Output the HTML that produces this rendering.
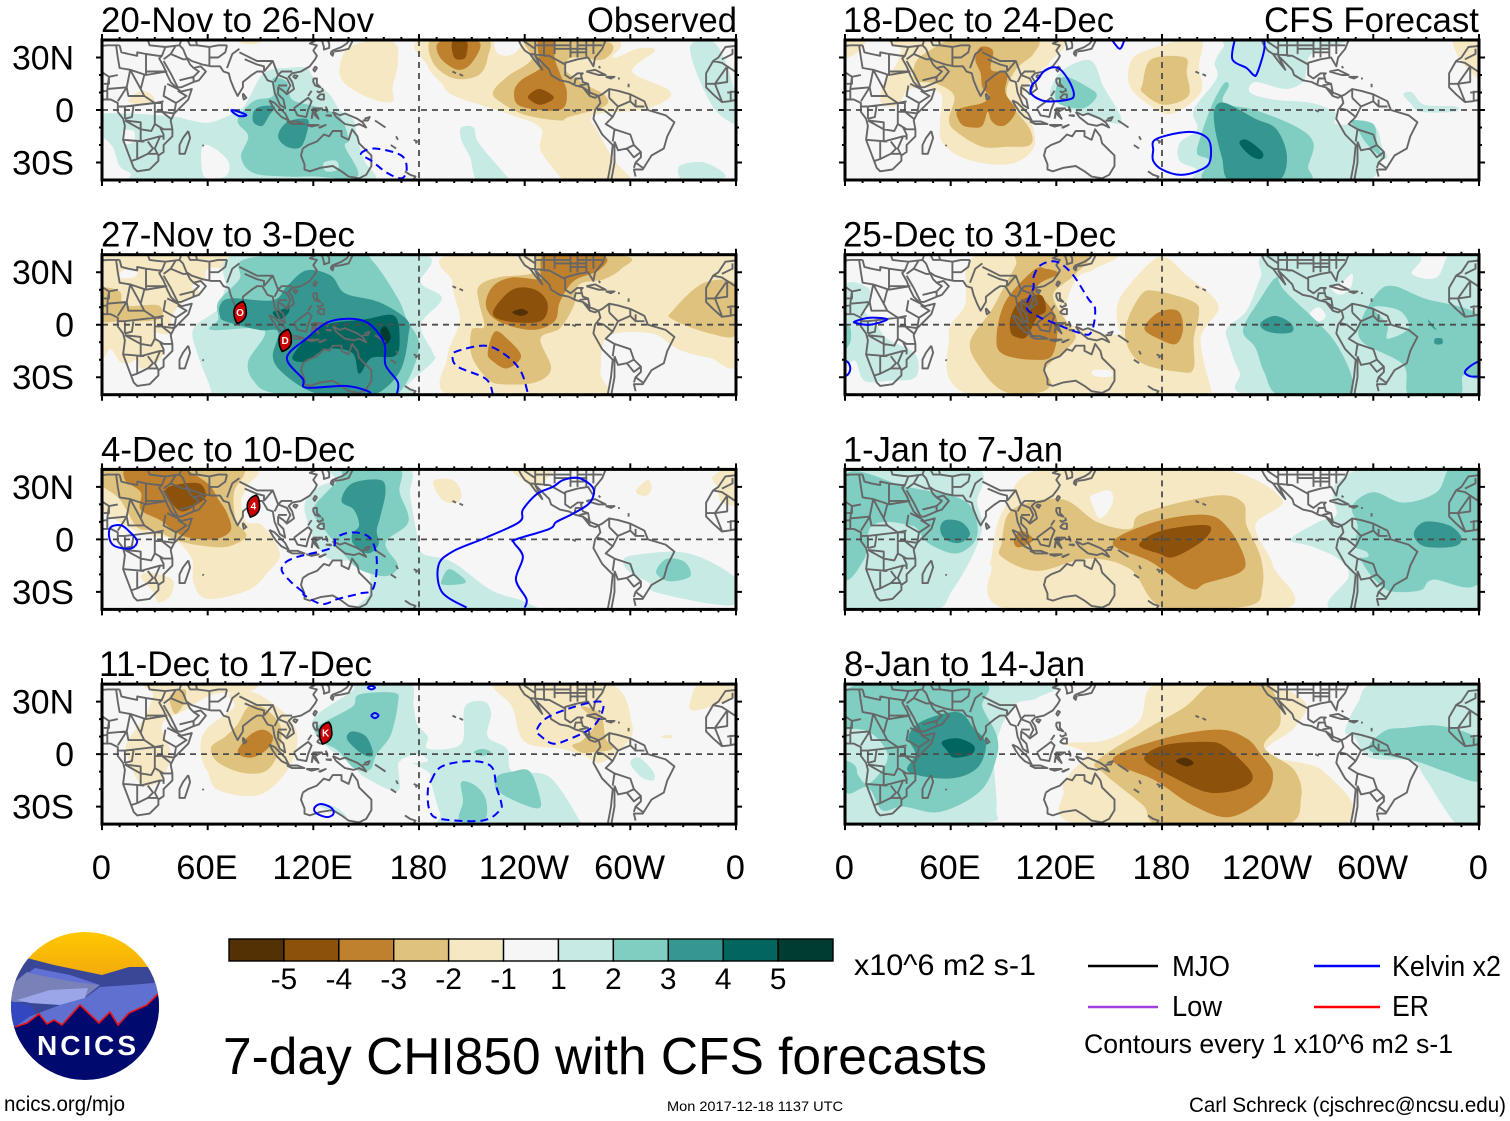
<!DOCTYPE html>
<html lang="en">
<head>
<meta charset="utf-8">
<title>7-day CHI850 with CFS forecasts</title>
<style>
html,body{margin:0;padding:0;background:#fff}
svg{display:block}
text{font-family:"Liberation Sans",sans-serif;fill:#000}
</style>
</head>
<body>
<svg id="figure" xmlns="http://www.w3.org/2000/svg" width="1510" height="1121" viewBox="0 0 1510 1121">
  <rect x="0" y="0" width="1510" height="1121" fill="#ffffff"/>
  <g id="panels"></g>

  <g font-size="35">
    <text x="101" y="32" textLength="273" lengthAdjust="spacingAndGlyphs">20-Nov to 26-Nov</text>
    <text x="587" y="32" textLength="150" lengthAdjust="spacingAndGlyphs">Observed</text>
    <text x="101" y="246.7" textLength="254" lengthAdjust="spacingAndGlyphs">27-Nov to 3-Dec</text>
    <text x="101" y="461.4" textLength="254" lengthAdjust="spacingAndGlyphs">4-Dec to 10-Dec</text>
    <text x="99" y="676.1" textLength="273" lengthAdjust="spacingAndGlyphs">11-Dec to 17-Dec</text>
    <text x="843" y="32" textLength="271" lengthAdjust="spacingAndGlyphs">18-Dec to 24-Dec</text>
    <text x="1264" y="32" textLength="215" lengthAdjust="spacingAndGlyphs">CFS Forecast</text>
    <text x="843" y="246.7" textLength="273" lengthAdjust="spacingAndGlyphs">25-Dec to 31-Dec</text>
    <text x="843" y="461.4" textLength="220" lengthAdjust="spacingAndGlyphs">1-Jan to 7-Jan</text>
    <text x="844" y="676.1" textLength="241" lengthAdjust="spacingAndGlyphs">8-Jan to 14-Jan</text>
  </g>

  <g id="colorbar"></g>
  <text x="854" y="975" font-size="30" textLength="182" lengthAdjust="spacingAndGlyphs">x10^6 m2 s-1</text>

  <g>
    <line x1="1088" y1="966" x2="1158" y2="966" stroke="#000000" stroke-width="2.4"/>
    <text x="1172" y="976" font-size="29" textLength="58" lengthAdjust="spacingAndGlyphs">MJO</text>
    <line x1="1314" y1="966" x2="1380" y2="966" stroke="#0000ff" stroke-width="2.4"/>
    <text x="1392" y="976" font-size="29" textLength="109" lengthAdjust="spacingAndGlyphs">Kelvin x2</text>
    <line x1="1088" y1="1007" x2="1158" y2="1007" stroke="#a040e0" stroke-width="2.4"/>
    <text x="1172" y="1016" font-size="29" textLength="50" lengthAdjust="spacingAndGlyphs">Low</text>
    <line x1="1314" y1="1007" x2="1380" y2="1007" stroke="#ff0000" stroke-width="2.4"/>
    <text x="1392" y="1016" font-size="29" textLength="37" lengthAdjust="spacingAndGlyphs">ER</text>
    <text x="1084" y="1053" font-size="27" textLength="369" lengthAdjust="spacingAndGlyphs">Contours every 1 x10^6 m2 s-1</text>
  </g>

  <text x="223" y="1074" font-size="52" textLength="764" lengthAdjust="spacingAndGlyphs">7-day CHI850 with CFS forecasts</text>
  <text x="4" y="1111" font-size="21" textLength="121" lengthAdjust="spacingAndGlyphs">ncics.org/mjo</text>
  <text x="667" y="1111" font-size="14" textLength="176" lengthAdjust="spacingAndGlyphs">Mon 2017-12-18 1137 UTC</text>
  <text x="1189" y="1112" font-size="21" textLength="317" lengthAdjust="spacingAndGlyphs">Carl Schreck (cjschrec@ncsu.edu)</text>

  <g>
    <defs>
      <clipPath id="logo-clip"><circle cx="85" cy="1006" r="74"/></clipPath>
      <linearGradient id="logo-sky" x1="0" y1="0" x2="0" y2="1">
        <stop offset="0" stop-color="#ffc800"/><stop offset="1" stop-color="#f2a60e"/>
      </linearGradient>
    </defs>
    <g clip-path="url(#logo-clip)">
      <rect x="10" y="932" width="150" height="50" fill="url(#logo-sky)"/>
      <polygon fill="#3a4796" points="5,950 27,958 54,965 102,975 129,967 165,967 165,1040 5,1040"/>
      <polygon fill="#7a80b8" points="5,990 27,972 75,980 100,985 85,997 40,1002 5,1002"/>
      <polygon fill="#6070d4" points="35,968 70,975 100,985 75,982 28,973"/>
      <polygon fill="#5f70d0" points="85,998 100,987 130,985 165,982 165,1040 10,1040 20,1020 60,1005"/>
      <polygon fill="#9aa6e8" points="17,1000 50,990 88,988 85,998 60,1005 30,1003"/>
      <polygon fill="#3348c0" points="5,1000 30,1005 36,1012 15,1027 5,1027"/>
      <polygon fill="#000a6e" points="5,1028 15,1027 27,1023 39,1014 47,1024 54,1020 62,1025 80,1005 99,1023 110,1012 118,1025 129,1013 147,1005 159,993 165,990 165,1085 5,1085"/>
      <polyline fill="none" stroke="#ee1111" stroke-width="1.6" points="15,1027 27,1023 39,1014 47,1024 54,1020 62,1025 80,1005 99,1023 110,1012 118,1025 129,1013 147,1005 159,993"/>
      <text x="37" y="1055" font-size="28" font-weight="bold" style="fill:#ffffff" textLength="99" lengthAdjust="spacing">NCICS</text>
    </g>
  </g>
</svg>

<script>
// Shading colours from the strongest negative (-5) to strongest positive (+5) class.
const fieldColors = ['#543005','#8c510a','#bf812d','#dfc27d','#f6e8c3','#f6f6f6','#c7eae5','#80cdc1','#35978f','#01665e','#003c30'];
const colorbarLabels = ['-5','-4','-3','-2','-1','1','2','3','4','5'];
const lonTickLabels = ['0','60E','120E','180','120W','60W','0'];
const lonTickValues = [0,60,120,180,240,300,360];
const latTickLabels = ['30N','0','30S'];
const latTickValues = [30,0,-30];

// Each field entry: [shading class, outline in lon/lat degrees]. Class 0 punches a neutral hole.
const panel1Fields = [
 [-1,[[15,5],[22,11],[28,9],[30,4],[24,3]]],
 [-1,[[75,41],[80,38],[88,38],[92,41]]],
 [-1,[[142,37],[165,39],[168,27],[165,13],[165,5],[154,6],[138,15],[135,25]]],
 [-1,[[185,41],[185,25],[193,15],[200,8],[230,-2],[249,-10],[249,-23],[260,-38],[263,-41],[299,-41],[291,-29],[282,-13],[279,-3],[306,0],[321,6],[321,12],[301,22],[314,34],[304,35],[290,30],[287,41]]],
 [0,[[224,41],[224,33],[230,31],[236,34],[238,41]]],
 [-2,[[188,41],[188,27],[200,18],[214,20],[219,30],[218,41]]],
 [-2,[[222,10],[230,19],[244,29],[242,41],[287,39],[285,29],[267,30],[263,23],[274,15],[286,8],[285,2],[265,-4],[260,-6],[241,-3],[227,4]]],
 [-3,[[192,39],[192,30],[202,23],[210,27],[214,39]]],
 [-3,[[234,10],[238,17],[249,24],[248,30],[248,41],[257,41],[257,30],[260,21],[264,10],[260,0],[238,2]]],
 [-4,[[199,39],[200,30],[205,29],[207,32],[207,39]]],
 [-4,[[242,8],[248,12],[255,9],[256,6],[249,3],[244,5]]],
 [1,[[-1,-3],[13,-2],[32,-3],[43,-4],[51,-6],[62,-7],[78,0],[83,6],[90,19],[96,23],[105,24],[116,24],[121,17],[130,8],[135,0],[143,-6],[145,-17],[149,-29],[153,-41],[105,-42],[24,-42],[16,-36],[10,-32],[6,-21],[-1,-13]]],
 [0,[[57,-21],[64,-22],[72,-30],[70,-38],[58,-38]]],
 [0,[[12,-12],[18,-12],[18,-18],[13,-19]]],
 [1,[[204,-10],[211,-10],[214,-19],[230,-38],[233,-41],[214,-41],[209,-27],[204,-17]]],
 [1,[[328,-32],[342,-30],[354,-38],[336,-41],[329,-40]]],
 [1,[[335,38],[347,39],[355,25],[361,2],[361,-8],[350,-2],[342,11],[335,29]]],
 [2,[[77,-6],[86,5],[97,8],[97,18],[105,16],[108,6],[121,2],[135,-4],[140,-17],[138,-21],[145,-38],[120,-38],[105,-38],[86,-36],[79,-27],[83,-15]]],
 [1,[[126,-30],[133,-29],[134,-34],[127,-35]]],
 [3,[[86,-1],[90,2],[98,2],[95,-3],[91,-9],[86,-7]]],
 [3,[[100,-15],[105,-7],[116,-5],[117,-10],[113,-21],[105,-21]]]
];
const panel1Kelvin = [
 ['solid',true,[[74,0],[79,-1.5],[82,-3],[78,-3.5],[74,-1]]],
 ['dashed',true,[[147,-25],[155,-22],[170,-26],[173,-34],[170,-39],[162,-36],[153,-29]]]
];
const panel1Storms = [];

const panel2Fields = [
 [-1,[[0,41],[75,41],[70,33],[60,32],[58,25],[51,22],[55,18],[45,12],[40,5],[38,-5],[30,-5],[35,-15],[30,-23],[22,-25],[20,-20],[15,-22],[10,-21],[5,-14],[-1,-16]]],
 [0,[[10,27],[18,27],[20,31],[12,31]]],
 [-2,[[-1,20],[10,19],[13,11],[32,11],[32,3],[10,2],[-1,3]]],
 [-1,[[205,41],[199,24],[203,6],[202,-2],[196,-19],[199,-41],[281,-41],[283,-27],[287,-7],[312,-5],[327,-14],[345,-19],[361,-21],[361,41]]],
 [-2,[[324,8],[342,24],[361,22],[361,-5],[345,-5],[324,3]]],
 [-2,[[214,22],[225,27],[246,30],[249,41],[298,39],[295,32],[285,26],[271,23],[268,11],[260,-2],[249,-8],[255,-25],[246,-33],[227,-34],[219,-31],[210,-18],[210,-3],[217,-1],[214,13]]],
 [-3,[[218,11],[222,22],[233,27],[249,26],[249,31],[253,41],[285,39],[282,31],[268,25],[260,13],[257,2],[244,-3],[225,2]]],
 [-3,[[219,-16],[223,-4],[230,-8],[238,-18],[230,-25],[222,-21]]],
 [-4,[[222,7],[233,20],[246,20],[253,12],[249,2],[230,2]]],
 [-5,[[233,7],[238,9],[242,7],[238,5]]],
 [1,[[79,41],[70,21],[66,9],[52,-2],[54,-16],[62,-38],[59,-42],[173,-42],[173,-35],[188,-21],[188,-16],[181,0],[193,15],[181,24],[180,41]]],
 [2,[[83,38],[78,26],[66,13],[66,3],[62,-3],[92,-3],[83,-21],[86,-32],[97,-39],[132,-42],[165,-42],[180,-14],[173,3],[168,15],[154,36],[143,41]]],
 [3,[[67,11],[73,15],[97,14],[105,22],[116,31],[130,28],[138,18],[157,13],[173,3],[174,-6],[170,-25],[160,-37],[151,-40],[132,-42],[116,-37],[102,-27],[97,-18],[100,-4],[89,-3],[70,2],[67,5]]],
 [4,[[108,-19],[116,-8],[127,0],[149,3],[166,5],[169,-10],[166,-18],[153,-19],[146,-28],[142,-16],[127,-14],[116,-21]]],
 [4,[[97,7],[103,9],[106,11],[106,7],[101,3]]],
 [5,[[158,-4],[161,-1],[164,-7],[161,-11]]]
];
const panel2Kelvin = [
 ['solid',false,[[167,-41],[168,-33],[161,-23],[160,-10],[149,2],[130,2],[116,-8],[105,-19],[114,-31],[116,-36],[138,-35],[151,-38],[153,-41]]],
 ['dashed',false,[[222,-40],[218,-31],[202,-24],[199,-18],[202,-15],[218,-12],[230,-18],[238,-27],[242,-40]]]
];
const panel2Storms = [[78.4,7,'O'],[104,-9,'D']];

const panel3Fields = [
 [-1,[[-1,41],[83,41],[82,30],[79,21],[82,10],[91,8],[101,-8],[94,-19],[83,-29],[60,-34],[52,-25],[51,-11],[41,0],[29,2],[17,6],[-1,19]]],
 [-1,[[22,-21],[28,-19],[40,-23],[39,-32],[32,-36],[29,-30]]],
 [-1,[[347,36],[359,41],[361,21],[352,21],[349,30]]],
 [-1,[[304,29],[310,34],[312,29],[309,25],[304,26]]],
 [-1,[[189,34],[199,34],[204,27],[202,21],[194,22],[189,29]]],
 [-1,[[233,41],[256,41],[247,30],[240,33]]],
 [-2,[[-1,32],[10,23],[20,7],[30,5],[44,-1],[60,-4],[72,-4],[82,2],[76,11],[75,27],[81,38],[75,41],[3,41]]],
 [-3,[[15,42],[13,34],[22,27],[22,17],[33,11],[46,2],[63,0],[73,5],[71,15],[66,23],[60,32],[45,41],[36,42]]],
 [-4,[[36,28],[41,31],[55,32],[59,25],[54,20],[45,16],[38,23]]],
 [1,[[132,41],[173,41],[175,25],[179,2],[182,-8],[199,-13],[221,-29],[241,-36],[241,-42],[151,-42],[152,-30],[150,-13],[127,-10],[115,17],[122,29],[132,34]]],
 [1,[[296,-13],[302,-9],[333,-8],[361,-23],[361,-36],[347,-37],[314,-30],[311,-25],[300,-19]]],
 [2,[[122,21],[136,36],[136,41],[168,41],[169,27],[174,10],[161,-2],[168,-15],[161,-21],[146,-17],[137,-8],[126,6],[120,15]]],
 [2,[[193,-23],[197,-17],[204,-21],[206,-25],[194,-26]]],
 [2,[[315,-17],[321,-11],[331,-13],[334,-21],[323,-24],[316,-21]]],
 [3,[[136,22],[142,32],[158,34],[161,27],[158,13],[156,5],[157,-3],[151,-8],[143,-3],[142,3],[146,8],[143,17]]]
];
const panel3Kelvin = [
 ['solid',true,[[4,2],[5,7],[11,8],[16,4],[20,-1],[17,-5],[11,-5],[6,-3]]],
 ['solid',false,[[207,-39],[193,-30],[191,-15],[199,-7],[218,1],[237,10],[239,17],[247,26],[256,30],[262,34],[271,35],[279,29],[277,21],[268,15],[258,10],[254,6],[235,0],[234,-2],[239,-10],[235,-23],[241,-34],[240,-39]]],
 ['dashed',true,[[114,-30],[107,-24],[102,-17],[108,-11],[130,-5],[133,1],[142,4],[152,1],[156,-11],[154,-28],[146,-31],[134,-34],[125,-37],[115,-32]]]
];
const panel3Storms = [[86,19,'4']];

const panel4Fields = [
 [-1,[[26,41],[29,34],[24,21],[15,8],[14,0],[22,-17],[33,-15],[39,0],[34,17],[47,25],[63,34],[84,36],[83,41]]],
 [-1,[[56,6],[60,15],[75,27],[72,34],[87,35],[106,21],[111,8],[106,-8],[94,-21],[82,-24],[65,-20],[60,-10],[57,-4]]],
 [-2,[[62,4],[70,10],[77,17],[83,27],[91,27],[101,17],[101,4],[96,-7],[89,-11],[77,-10],[65,-4]]],
 [-2,[[39,34],[47,37],[47,30],[42,23],[39,28]]],
 [-3,[[77,1],[83,10],[91,14],[97,10],[94,3],[85,-2]]],
 [-1,[[225,41],[287,41],[301,17],[297,5],[283,-5],[274,-1],[261,3],[240,7],[233,27]]],
 [-2,[[267,5],[273,8],[280,18],[272,27],[283,23],[286,9],[290,3],[278,1],[272,1]]],
 [-1,[[334,30],[340,41],[361,41],[361,34],[345,27],[335,25]]],
 [-1,[[317,10],[323,11],[323,9]]],
 [1,[[120,20],[142,36],[144,41],[174,41],[177,27],[179,17],[185,10],[185,3],[204,6],[206,27],[217,30],[221,23],[219,10],[230,3],[233,-10],[254,-13],[272,-39],[274,-42],[197,-42],[192,-34],[187,-17],[185,-10],[169,-4],[168,-21],[149,-13],[142,-6],[126,6]]],
 [0,[[170,-3],[180,0],[185,-4],[175,-5]]],
 [1,[[300,-5],[305,-2],[313,-10],[313,-15],[306,-13]]],
 [1,[[122,-29],[132,-30],[139,-36],[131,-33]]],
 [2,[[124,17],[142,27],[146,34],[166,35],[168,29],[164,11],[156,0],[152,-9],[143,-8],[134,2],[125,7],[121,13]]],
 [3,[[139,9],[142,13],[150,10],[154,0],[150,-1],[144,3]]],
 [2,[[211,1],[216,3],[221,1],[216,-1]]],
 [2,[[224,-13],[233,-10],[243,-10],[249,-26],[247,-31],[233,-26],[224,-20]]],
 [2,[[204,-16],[212,-18],[218,-26],[217,-38],[203,-38],[205,-27]]]
];
const panel4Kelvin = [
 ['solid',true,[[153,39],[155,38],[153,37],[151,38]]],
 ['solid',true,[[155,23.5],[157,22],[155,20.5],[153,22]]],
 ['solid',true,[[120.5,-31],[124,-28.5],[130,-30.5],[131.5,-34],[128,-36],[122,-34]]],
 ['dashed',true,[[187,-15],[193,-7],[209,-4],[221,-7],[224,-19],[226.5,-27],[226,-32],[216,-38],[192,-37],[186,-32],[185,-21]]],
 ['dashed',true,[[247,14],[253,21],[268,27],[283,30],[284,24],[278,15],[264,8],[256,6],[249.5,10]]]
];
const panel4Storms = [[127,12,'K']];

const panel5Fields = [
 [-1,[[30,41],[119,41],[116,27],[107,19],[101,6],[107,-11],[107,-22],[97,-30],[83,-31],[66,-27],[55,-18],[54,-6],[54,10],[37,12],[30,3],[21,3],[21,13],[28,24],[32,34]]],
 [-1,[[-1,41],[12,41],[7,33],[-1,30]]],
 [-1,[[346,41],[361,41],[361,19],[352,25],[347,33]]],
 [-2,[[40,27],[48,34],[65,41],[107,41],[107,32],[97,23],[92,8],[105,-11],[105,-20],[92,-21],[78,-21],[64,-13],[59,-6],[62,8],[52,15],[40,17]]],
 [-3,[[77,36],[84,34],[83,23],[92,21],[91,10],[97,0],[92,-8],[87,-9],[83,-6],[81,-1],[78,-9],[72,-10],[66,-8],[64,0],[78,4],[82,8],[78,13],[77,21],[74,29]]],
 [-1,[[162,27],[171,34],[201,41],[201,25],[202,10],[186,-2],[174,2],[162,13]]],
 [-2,[[169,15],[174,29],[193,30],[194,21],[195,8],[181,3],[169,10]]],
 [1,[[127,25],[140,28],[147,13],[157,-5],[150,-7],[119,5],[119,17]]],
 [2,[[120,13],[125,19],[138,13],[143,8],[135,1],[121,4]]],
 [1,[[190,-19],[200,-11],[198,0],[211,18],[210,27],[215,36],[221,41],[284,41],[265,32],[262,23],[260,16],[250,12],[233,16],[230,10],[243,6],[265,4],[279,-2],[279,-8],[300,-9],[305,-21],[308,-27],[303,-30],[291,-41],[205,-41],[200,-34],[190,-29]]],
 [1,[[317,9],[322,10],[329,3],[347,2],[346,-1],[327,-1],[321,4]]],
 [2,[[200,-25],[202,-15],[208,2],[215,15],[218,14],[215,4],[233,0],[257,-10],[266,-19],[263,-32],[261,-41],[206,-41],[207,-29]]],
 [2,[[287,-6],[300,-8],[302,-19],[305,-27],[296,-19],[291,-11]]],
 [3,[[210,1],[216,4],[233,-5],[245,-11],[251,-27],[245,-41],[219,-41],[214,-27],[210,-10]]],
 [4,[[224,-19],[228,-17],[237,-24],[236,-28],[230,-26]]]
];
const panel5Kelvin = [
 ['solid',true,[[109,17],[114,23],[121,24],[127,17],[130,9],[127,6],[114,5],[106,9],[106,14]]],
 ['solid',true,[[175,-23],[176,-17],[190,-13],[200,-13],[207,-18],[207,-30],[200,-35],[190,-37],[180,-34],[175,-29]]],
 ['solid',false,[[221.5,41],[220,29],[228,24],[232,20],[234,21],[238,34],[238,41]]],
 ['solid',false,[[151,41],[156,35],[159,41]]]
];
const panel5Storms = [];

const panel6Fields = [
 [1,[[-1,21],[13,21],[14,11],[11,8],[18,0],[24,-8],[40,-17],[40,-30],[25,-32],[11,-32],[6,-21],[-1,-19]]],
 [2,[[-1,0],[3,-2],[3,-10],[-1,-14]]],
 [1,[[217,-2],[228,8],[236,27],[243,41],[322,41],[322,29],[336,27],[344,41],[361,41],[361,-41],[234,-41],[224,-27],[218,-11]]],
 [0,[[276,21],[281,23],[288,29],[287,21],[281,17]]],
 [0,[[264,6],[269,10],[273,5],[269,2]]],
 [2,[[226,-3],[236,15],[245,27],[250,19],[279,-11],[287,-41],[248,-41],[238,-27],[233,-13]]],
 [2,[[293,2],[303,19],[312,22],[329,15],[361,4],[361,-29],[351,-29],[348,-41],[321,-41],[317,-23],[294,-10]]],
 [1,[[300,10],[315,8],[320,-2],[308,-8],[308,0]]],
 [3,[[236,1],[244,5],[253,1],[254,-4],[246,-5],[238,-3]]],
 [3,[[331,3],[336,-3],[333,-1]]],
 [3,[[335,-8],[339,-8],[339,-11],[335,-11]]],
 [-1,[[59,-6],[68,11],[77,41],[152,41],[142,32],[132,27],[126,13],[127,1],[147,-5],[157,-5],[155,-1],[156,15],[174,36],[183,38],[193,29],[212,11],[202,-8],[208,-38],[207,-41],[74,-41]]],
 [0,[[141,-26],[150,-26],[152,-29],[147,-30],[141,-29]]],
 [-2,[[71,-10],[83,8],[90,21],[97,34],[100,41],[138,41],[131,29],[119,19],[120,11],[127,0],[131,-7],[125,-15],[114,-25],[117,-34],[109,-39],[90,-38],[77,-25]]],
 [-3,[[86,-8],[91,13],[107,31],[114,32],[121,29],[109,21],[120,4],[118,-17],[107,-20],[90,-17]]],
 [-4,[[94,-4],[94,4],[99,13],[111,17],[114,8],[109,4],[103,-7],[97,-7]]],
 [-2,[[159,-4],[168,17],[178,19],[198,13],[201,6],[198,-8],[198,-25],[190,-27],[167,-21]]],
 [-3,[[170,-2],[178,7],[189,8],[192,-2],[188,-11],[178,-8]]]
];
const panel6Kelvin = [
 ['solid',true,[[352,-27],[356,-23],[361,-21],[363,-25],[361,-29],[355,-29.5]]],
 ['solid',true,[[6,2],[14,4],[24,3],[14,0],[6,1]]],
 ['dashed',true,[[107,27],[111,34],[120,36],[129,29],[138,15],[142,9],[140,-4],[134,-5],[116,2],[109,5],[103,10],[107,21]]]
];
const panel6Storms = [];

const panel7Fields = [
 [1,[[-1,41],[73,41],[75,21],[78,8],[73,-8],[61,-29],[49,-41],[-1,-41]]],
 [2,[[-1,36],[35,30],[66,23],[74,13],[75,2],[70,-5],[61,-8],[47,-2],[41,6],[37,8],[23,10],[14,6],[11,-11],[-1,-21]]],
 [3,[[54,6],[57,11],[66,10],[71,3],[65,-2],[57,0]]],
 [1,[[253,0],[269,10],[279,14],[277,25],[281,34],[300,41],[361,41],[361,-41],[278,-41],[286,-21],[280,-11],[265,-4]]],
 [2,[[288,19],[300,27],[317,21],[336,27],[344,41],[361,41],[361,-23],[334,-23],[327,-29],[312,-30],[305,-27],[296,-17],[290,-4],[291,8]]],
 [1,[[289,-5],[296,-7],[297,-10],[292,-10]]],
 [3,[[323,3],[329,10],[343,8],[350,1],[346,-4],[329,-4]]],
 [-1,[[83,-11],[90,17],[114,41],[209,41],[248,23],[233,8],[243,-15],[245,-41],[97,-41],[83,-15]]],
 [0,[[140,25],[150,28],[152,21],[145,12],[140,21]]],
 [-2,[[89,-2],[95,17],[123,23],[143,10],[162,6],[169,15],[210,25],[226,21],[228,8],[236,-10],[237,-27],[229,-38],[181,-39],[162,-17],[138,-11],[109,-18],[89,-10]]],
 [-3,[[96,0],[100,5],[107,0],[101,-4],[97,-4]]],
 [-3,[[152,-2],[176,10],[205,14],[218,6],[227,-11],[224,-19],[205,-25],[196,-28],[174,-13]]],
 [-4,[[167,-3],[180,5],[206,8],[204,0],[187,-10],[178,-8]]]
];
const panel7Kelvin = [];
const panel7Storms = [];

const panel8Fields = [
 [1,[[-1,41],[114,41],[109,32],[95,27],[85,2],[86,-31],[80,-39],[18,-41],[-1,-41]]],
 [2,[[-1,36],[76,41],[78,27],[86,11],[86,-2],[77,-21],[54,-33],[33,-30],[21,-32],[13,-19],[-1,-19]]],
 [1,[[-1,13],[13,13],[23,3],[23,-6],[13,-17],[6,-10],[-1,0]]],
 [2,[[-1,-4],[6,-7],[6,-14],[-1,-15]]],
 [3,[[36,10],[44,19],[64,24],[73,15],[80,6],[75,-8],[59,-14],[36,-10],[40,0]]],
 [4,[[55,7],[64,9],[73,5],[72,0],[62,-2],[58,2]]],
 [1,[[284,13],[291,29],[303,41],[361,41],[361,-41],[348,-41],[329,-13],[322,-4],[298,-2],[289,10]]],
 [2,[[306,13],[318,15],[339,16],[361,7],[361,-15],[341,-10],[324,-4],[298,2]]],
 [-1,[[126,6],[148,8],[167,19],[178,41],[234,41],[261,30],[255,15],[238,0],[272,-10],[280,-41],[137,-41],[124,-21],[128,-11],[137,0]]],
 [-2,[[143,-4],[169,13],[193,27],[210,41],[236,41],[245,32],[247,17],[238,4],[255,-9],[259,-25],[248,-41],[181,-41],[169,-29],[147,-11]]],
 [-3,[[152,-3],[181,9],[212,14],[228,9],[236,0],[243,-11],[238,-25],[218,-36],[197,-29],[176,-15]]],
 [-4,[[170,-3],[181,5],[205,7],[216,4],[231,-11],[226,-19],[207,-22],[186,-13]]],
 [-5,[[188,-4],[193,-2],[198,-5],[194,-7]]]
];
const panel8Kelvin = [];
const panel8Storms = [];

// Coastlines and political borders, lon/lat degrees.
const coastlines = [
 [[10,37],[11,33],[15,32],[20,31],[20,33],[25,32],[32,31],[34,31],[32.5,29.5],[35,25],[37,20],[39,16],[43,12],[45,10.5],[51,12],[49,6],[45,2],[41,-2],[39,-6],[40,-11],[40,-15],[35,-20],[35,-24],[32,-26],[32,-29],[27,-34],[20,-35],[18,-33],[15,-25],[12,-17],[13,-9],[12,-5],[9,-1],[9,4],[5,6],[1,6],[-4,5],[-8,4.5],[-13,9],[-17,13],[-17,21],[-13,28],[-10,30],[-6,36],[3,37],[10,37]],
 [[49,-12],[50,-16],[47,-25],[44,-25],[44,-20],[46,-16],[49,-12]],
 [[34,31],[36,36],[31,36.5],[27,37],[26,40],[29,41],[35,42],[41,41]],
 [[35,28],[39,21],[43,13],[45,13],[52,16],[55,17],[59,22],[56,25],[52,24],[50,26],[48,30],[51,28],[57,26],[62,25],[67,25],[69,22],[72,21],[73,17],[75,12],[77,8],[80,13],[80,16],[85,20],[88,22],[91,22],[94,17],[97,16],[98,10],[101,3],[104,1],[103,6],[100,9],[100,13],[103,11],[105,9],[109,12],[108,16],[106,19],[108,21],[113,22],[118,25],[121,29],[122,31],[120,34],[122,37],[118,38],[122,40],[125,39.5],[126,36],[126,34.5],[129,35.5],[129,38],[128,40],[130,42]],
 [[47,42],[49,39],[50,37],[54,37],[53,41],[50,44]],
 [[80,9.5],[82,7],[80.5,6],[80,8],[80,9.5]],
 [[95,5.5],[98,4],[100,2],[104,-2],[106,-6],[102,-4],[99,-1],[97,2],[95,5.5]],
 [[105,-6.5],[111,-6.5],[115,-8],[108,-8],[105,-6.5]],
 [[116,-8.5],[120,-8.5],[123,-8.5],[119,-9.5],[116,-8.5]],
 [[123,-10],[127,-8.5],[124,-10],[123,-10]],
 [[109,1],[113,4],[117,7],[119,5],[117,0],[116,-4],[111,-3],[109,1]],
 [[119,-5],[120,1],[125,1],[121,-1],[123,-5],[121,-3],[120,-1],[119,-5]],
 [[127,2],[128,0],[128,-1],[127,2]],
 [[127,-3],[130,-3],[130,-3.5],[127,-3]],
 [[131,-1],[135,-3],[138,-2],[145,-5],[148,-7],[150,-10],[146,-8],[143,-9],[138,-8],[133,-4],[131,-1]],
 [[149,-5],[152,-4],[151,-6],[148,-6]],
 [[155,-6],[158,-8],[161,-10]],
 [[109,20],[111,19.5],[110,18],[108.7,19],[109,20]],
 [[121,25],[122,24],[120.8,22],[120,23],[121,25]],
 [[120,18],[122,18],[122,15],[124,13],[121,14],[120,16],[120,18]],
 [[122,7],[124,9],[126,9],[126,6],[124,6],[122,7]],
 [[117,8],[119,11]],
 [[125,12.5],[125.5,11],[123,10],[122,11]],
 [[130,33],[131,34],[136,36],[139,38],[141,41],[142,39],[140,35],[136,34],[132,33.5]],
 [[130,33],[131.5,33],[131,31],[130,32],[130,33]],
 [[114,-22],[117,-20],[122,-18],[126,-14],[129,-15],[131,-12],[136,-12],[136,-15],[140,-17],[142,-11],[145,-15],[146,-19],[150,-23],[153,-26],[153,-32],[150,-37],[146,-39],[140,-38],[136,-35],[131,-32],[124,-33],[118,-35],[115,-34],[115,-31],[113,-26],[114,-22]],
 [[164,-20],[167,-22]],[[167,-15],[168,-17]],[[177,-17],[179,-18],[178,-19]],
 [[172,-35],[175,-37],[178,-38],[176,-41]],
 [[199,22],[201,21]],[[203,20.5],[205,19.5]],
 [[57,-20],[57.8,-20.5]],[[267,0],[269,-1]],
 [[-124,41],[-122,37],[-120,34],[-117,32],[-114,28],[-110,23],[-112,27],[-114,31],[-110,27],[-106,23],[-105,20],[-100,17],[-95,16],[-91,14],[-87,13],[-83,8],[-80,7],[-78,8],[-77,4],[-80,0],[-81,-5],[-76,-14],[-70,-20],[-71,-30],[-73,-41]],
 [[-57,-38],[-58,-34],[-53,-34],[-48,-26],[-41,-22],[-39,-15],[-35,-7],[-40,-3],[-50,0],[-52,5],[-60,9],[-67,11],[-72,12],[-76,9],[-78,8],[-83,10],[-84,15],[-87,16],[-88,20],[-87,21],[-90,21],[-94,18],[-97,20],[-97,27],[-90,29],[-84,30],[-81,25],[-80,30],[-76,35],[-74,40],[-70,42]],
 [[-85,22],[-80,23],[-74,20],[-78,20],[-85,22]],
 [[-74,19],[-69,19],[-71,18],[-74,19]],
 [[-67,18],[-66,18]],[[-61,15],[-61,13]],[[-78,25],[-77,24]]
];
const borders = [
 [[25,32],[25,20],[37,22]],[[25,22],[37,22]],[[25,20],[16,23],[10,24],[9,30],[8,37]],[[24,20],[22,12],[24,8]],[[24,8],[30,4],[35,5]],[[36,14],[35,8],[42,4],[48,8],[43,11]],[[42,4],[41,-2]],[[37,15],[43,12]],
 [[30,4],[30,-8],[28,-12],[22,-11],[13,-6]],[[3,6],[3,12],[14,13],[9,5]],[[14,13],[16,23]],[[16,23],[22,12]],[[14,13],[15,8],[24,8]],[[13,2],[30,4]],[[9,2],[13,2],[13,-5]],[[18,3],[17,-4],[13,-5]],[[30,4],[34,4],[34,-1]],[[13,-6],[22,-7],[22,-13]],
 [[34,-1],[41,-2]],[[30,-1],[34,-1],[39,-5]],[[30,-8],[35,-11],[40,-11]],[[33,-10],[35,-14],[35,-17]],[[22,-13],[22,-18],[33,-15]],[[12,-17],[24,-18]],[[20,-18],[20,-28]],[[17,-29],[20,-28],[26,-25],[32,-25]],[[33,-15],[30,-22],[32,-26]],[[35,-15],[33,-15]],[[26,-18],[29,-22],[26,-25]],
 [[9,20],[4,19],[-5,25],[-8,27],[-13,28]],[[-5,25],[-12,15],[-17,15]],[[4,19],[3,12]],[[-12,15],[-8,5]],[[-5,10],[3,11]],[[-3,11],[-3,5]],[[-2,35],[-2,32],[-8,29]],[[4,19],[4,15],[1,15]],[[-12,15],[-5,16],[-5,25]],
 [[35,29],[39,32],[46,29],[48,29]],[[44,17],[52,19],[55,22],[52,24]],[[52,19],[52,16]],[[46,35],[48,30]],[[36,36],[44,37],[46,35]],[[39,32],[42,37]],[[61,36],[61,25]],[[61,30],[66,30],[70,33],[71,37]],[[54,37],[61,36],[66,37],[71,37]],[[44,37],[45,40]],
 [[71,24],[74,32],[78,35]],[[78,33],[88,28],[97,28]],[[81,29],[88,26]],[[88,26],[92,25],[92,22]],[[92,22],[97,28],[100,20],[98,16]],[[100,20],[105,18],[107,14],[105,10]],[[100,14],[105,14]],[[108,22],[102,22],[100,20]],
 [[-79,1],[-75,0],[-70,-4],[-74,-8],[-69,-11],[-70,-18]],[[-72,7],[-67,2],[-60,5]],[[-72,12],[-72,7]],[[-67,2],[-70,-4]],[[-60,9],[-60,5],[-57,2],[-52,2]],[[-57,6],[-57,2]],
 [[-69,-11],[-60,-14],[-58,-20],[-62,-22],[-67,-23],[-69,-18]],[[-69,-18],[-69,-30],[-71,-41]],[[-58,-20],[-54,-24],[-58,-27],[-62,-22]],[[-58,-33],[-57,-30],[-53,-33]],[[-54,-24],[-54,-27],[-57,-30]],
 [[-117,32],[-106,31],[-97,26]],[[-92,14],[-91,18],[-88,18]],[[-89,14],[-84,15]],[[-87,13],[-84,11],[-83,8]],
 [[-120,41],[-120,39],[-114,35],[-114,32]],[[-114,41],[-114,35]],[[-109,41],[-109,31]],[[-103,41],[-103,32]],[[-94,40],[-94,30]],[[-90,40],[-90,30]],[[-85,40],[-85,30]],[[-81,40],[-81,32]],[[-114,37],[-94,37]],[[-103,35],[-85,35]],[[-94,33],[-85,33]],[[-90,37],[-76,37]],[[-109,31],[-106,31]]
];

const SVG_NS = 'http://www.w3.org/2000/svg';
const panelsLayer = document.getElementById('panels');
const PANEL_W = 634, PANEL_H = 140;
const columnLefts = [102, 845];
const rowTops = [40, 254.7, 469.4, 684.1];

function make(tag, attrs, parent) {
  const el = document.createElementNS(SVG_NS, tag);
  for (const key in attrs) el.setAttribute(key, attrs[key]);
  parent.appendChild(el);
  return el;
}
function lonScale(left, lon) { return left + lon * PANEL_W / 360; }
function latScale(top, lat) { return top + (40 - lat) * PANEL_H / 80; }

function smoothPath(pts, closed) {
  const n = pts.length;
  let d = 'M' + pts[0][0].toFixed(1) + ' ' + pts[0][1].toFixed(1);
  const last = closed ? n : n - 1;
  for (let i = 0; i < last; i++) {
    const p0 = closed ? pts[(i - 1 + n) % n] : pts[Math.max(i - 1, 0)];
    const p1 = pts[i % n];
    const p2 = pts[(i + 1) % n];
    const p3 = closed ? pts[(i + 2) % n] : pts[Math.min(i + 2, n - 1)];
    const c1x = p1[0] + (p2[0] - p0[0]) / 6, c1y = p1[1] + (p2[1] - p0[1]) / 6;
    const c2x = p2[0] - (p3[0] - p1[0]) / 6, c2y = p2[1] - (p3[1] - p1[1]) / 6;
    d += 'C' + c1x.toFixed(1) + ' ' + c1y.toFixed(1) + ' ' + c2x.toFixed(1) + ' ' + c2y.toFixed(1) + ' ' + p2[0].toFixed(1) + ' ' + p2[1].toFixed(1);
  }
  return closed ? d + 'Z' : d;
}

function linesPath(lines, left, top) {
  let d = '';
  [0, 360].forEach(function (shift) {
    lines.forEach(function (line) {
      line.forEach(function (pt, i) {
        d += (i ? 'L' : 'M') + lonScale(left, pt[0] + shift).toFixed(1) + ' ' + latScale(top, pt[1]).toFixed(1);
      });
    });
  });
  return d;
}

function drawPanel(index, left, top, fields, kelvin, storms, showLatLabels, showLonLabels) {
  const group = make('g', {}, panelsLayer);
  
  

  const clipId = 'panel-clip-' + index;
  const clip = make('clipPath', { id: clipId }, group);
  make('rect', { x: left, y: top, width: PANEL_W, height: PANEL_H }, clip);

  const plot = make('g', { 'clip-path': 'url(#' + clipId + ')' }, group);
  
  

  const bg = make('rect', { x: left, y: top, width: PANEL_W, height: PANEL_H, fill: fieldColors[5] }, plot);
  
  

  fields.forEach(function (field) {
    const pts = field[1].map(function (p) { return [lonScale(left, p[0]), latScale(top, p[1])]; });
    const shape = make('path', { d: smoothPath(pts, true), fill: fieldColors[field[0] + 5] }, plot);
    
    
  });

  const land = make('path', { d: linesPath(coastlines.concat(borders), left, top), fill: 'none', stroke: '#666666', 'stroke-width': 1.9, 'stroke-linejoin': 'round' }, plot);
  
  

  const equator = make('line', { x1: left, x2: left + PANEL_W, y1: latScale(top, 0), y2: latScale(top, 0), stroke: '#4d4d4d', 'stroke-width': 1.8, 'stroke-dasharray': '6 5' }, plot);
  
  
  const dateline = make('line', { x1: lonScale(left, 180), x2: lonScale(left, 180), y1: top, y2: top + PANEL_H, stroke: '#4d4d4d', 'stroke-width': 1.8, 'stroke-dasharray': '6 5' }, plot);
  
  

  kelvin.forEach(function (wave) {
    [0, -360].forEach(function (shift) {
      const pts = wave[2].map(function (p) { return [lonScale(left, p[0] + shift), latScale(top, p[1])]; });
      const attrs = { d: smoothPath(pts, wave[1]), fill: 'none', stroke: '#0000ff', 'stroke-width': 2 };
      if (wave[0] === 'dashed') attrs['stroke-dasharray'] = '8 5';
      const curve = make('path', attrs, plot);
      
      
    });
  });

  storms.forEach(function (storm) {
    const cx = lonScale(left, storm[0]), cy = latScale(top, storm[1]);
    const icon = make('g', { transform: 'translate(' + cx + ' ' + cy + ')' }, plot);
    
    
    make('path', { d: 'M3 -11C-4 -9 -7 -4 -6 2C-6 6 -4 9 -3 11C4 9 7 4 6 -2C6 -6 5 -9 3 -11Z', fill: '#cc0000', stroke: '#000000', 'stroke-width': 1.6 }, icon);
    const label = make('text', { x: 0, y: 3.5, 'font-size': 10, 'font-weight': 'bold', 'text-anchor': 'middle', style: 'fill:#ffffff' }, icon);
    label.textContent = storm[2];
  });

  const frame = make('rect', { x: left, y: top, width: PANEL_W, height: PANEL_H, fill: 'none', stroke: '#000000', 'stroke-width': 3 }, group);
  
  

  let tickPath = '';
  for (let lon = 0; lon <= 360; lon += 10) {
    const x = lonScale(left, lon);
    const len = lon % 60 === 0 ? 6 : 3;
    tickPath += 'M' + x.toFixed(1) + ' ' + top + 'v' + (-len) + 'M' + x.toFixed(1) + ' ' + (top + PANEL_H) + 'v' + len;
  }
  for (let lat = -30; lat <= 30; lat += 10) {
    const y = latScale(top, lat);
    const len = lat % 30 === 0 ? 6 : 3;
    tickPath += 'M' + left + ' ' + y.toFixed(1) + 'h' + (-len) + 'M' + (left + PANEL_W) + ' ' + y.toFixed(1) + 'h' + len;
  }
  const ticks = make('path', { d: tickPath, stroke: '#000000', 'stroke-width': 2, fill: 'none' }, group);
  
  

  if (showLatLabels) {
    latTickLabels.forEach(function (txt, i) {
      const attrs = { x: left - 28, y: latScale(top, latTickValues[i]) + 12, 'font-size': 34, 'text-anchor': 'end' };
      if (txt.length > 1) { attrs.textLength = 62; attrs.lengthAdjust = 'spacingAndGlyphs'; }
      const t = make('text', attrs, group);
      t.textContent = txt;
      
      
    });
  }

  if (showLonLabels) {
    lonTickLabels.forEach(function (txt, i) {
      const t = make('text', { x: lonScale(left, lonTickValues[i]) - 0.7, y: top + PANEL_H + 55, 'font-size': 34.5, 'text-anchor': 'middle' }, group);
      t.textContent = txt;
      
      
    });
  }
}

drawPanel(1, columnLefts[0], rowTops[0], panel1Fields, panel1Kelvin, panel1Storms, true, false);
drawPanel(2, columnLefts[0], rowTops[1], panel2Fields, panel2Kelvin, panel2Storms, true, false);
drawPanel(3, columnLefts[0], rowTops[2], panel3Fields, panel3Kelvin, panel3Storms, true, false);
drawPanel(4, columnLefts[0], rowTops[3], panel4Fields, panel4Kelvin, panel4Storms, true, true);
drawPanel(5, columnLefts[1], rowTops[0], panel5Fields, panel5Kelvin, panel5Storms, false, false);
drawPanel(6, columnLefts[1], rowTops[1], panel6Fields, panel6Kelvin, panel6Storms, false, false);
drawPanel(7, columnLefts[1], rowTops[2], panel7Fields, panel7Kelvin, panel7Storms, false, false);
drawPanel(8, columnLefts[1], rowTops[3], panel8Fields, panel8Kelvin, panel8Storms, false, true);

const colorbarLayer = document.getElementById('colorbar');
const CB_LEFT = 229, CB_TOP = 939, CB_H = 22, CB_STEP = 604 / fieldColors.length;
fieldColors.forEach(function (color, i) {
  const box = make('rect', { x: CB_LEFT + i * CB_STEP, y: CB_TOP, width: CB_STEP, height: CB_H, fill: color, stroke: '#000000', 'stroke-width': 1.4 }, colorbarLayer);
  
  
});
colorbarLabels.forEach(function (txt, i) {
  const t = make('text', { x: CB_LEFT + (i + 1) * CB_STEP, y: 989, 'font-size': 30, 'text-anchor': 'middle' }, colorbarLayer);
  t.textContent = txt;
  
  
});
</script>
</body>
</html>
